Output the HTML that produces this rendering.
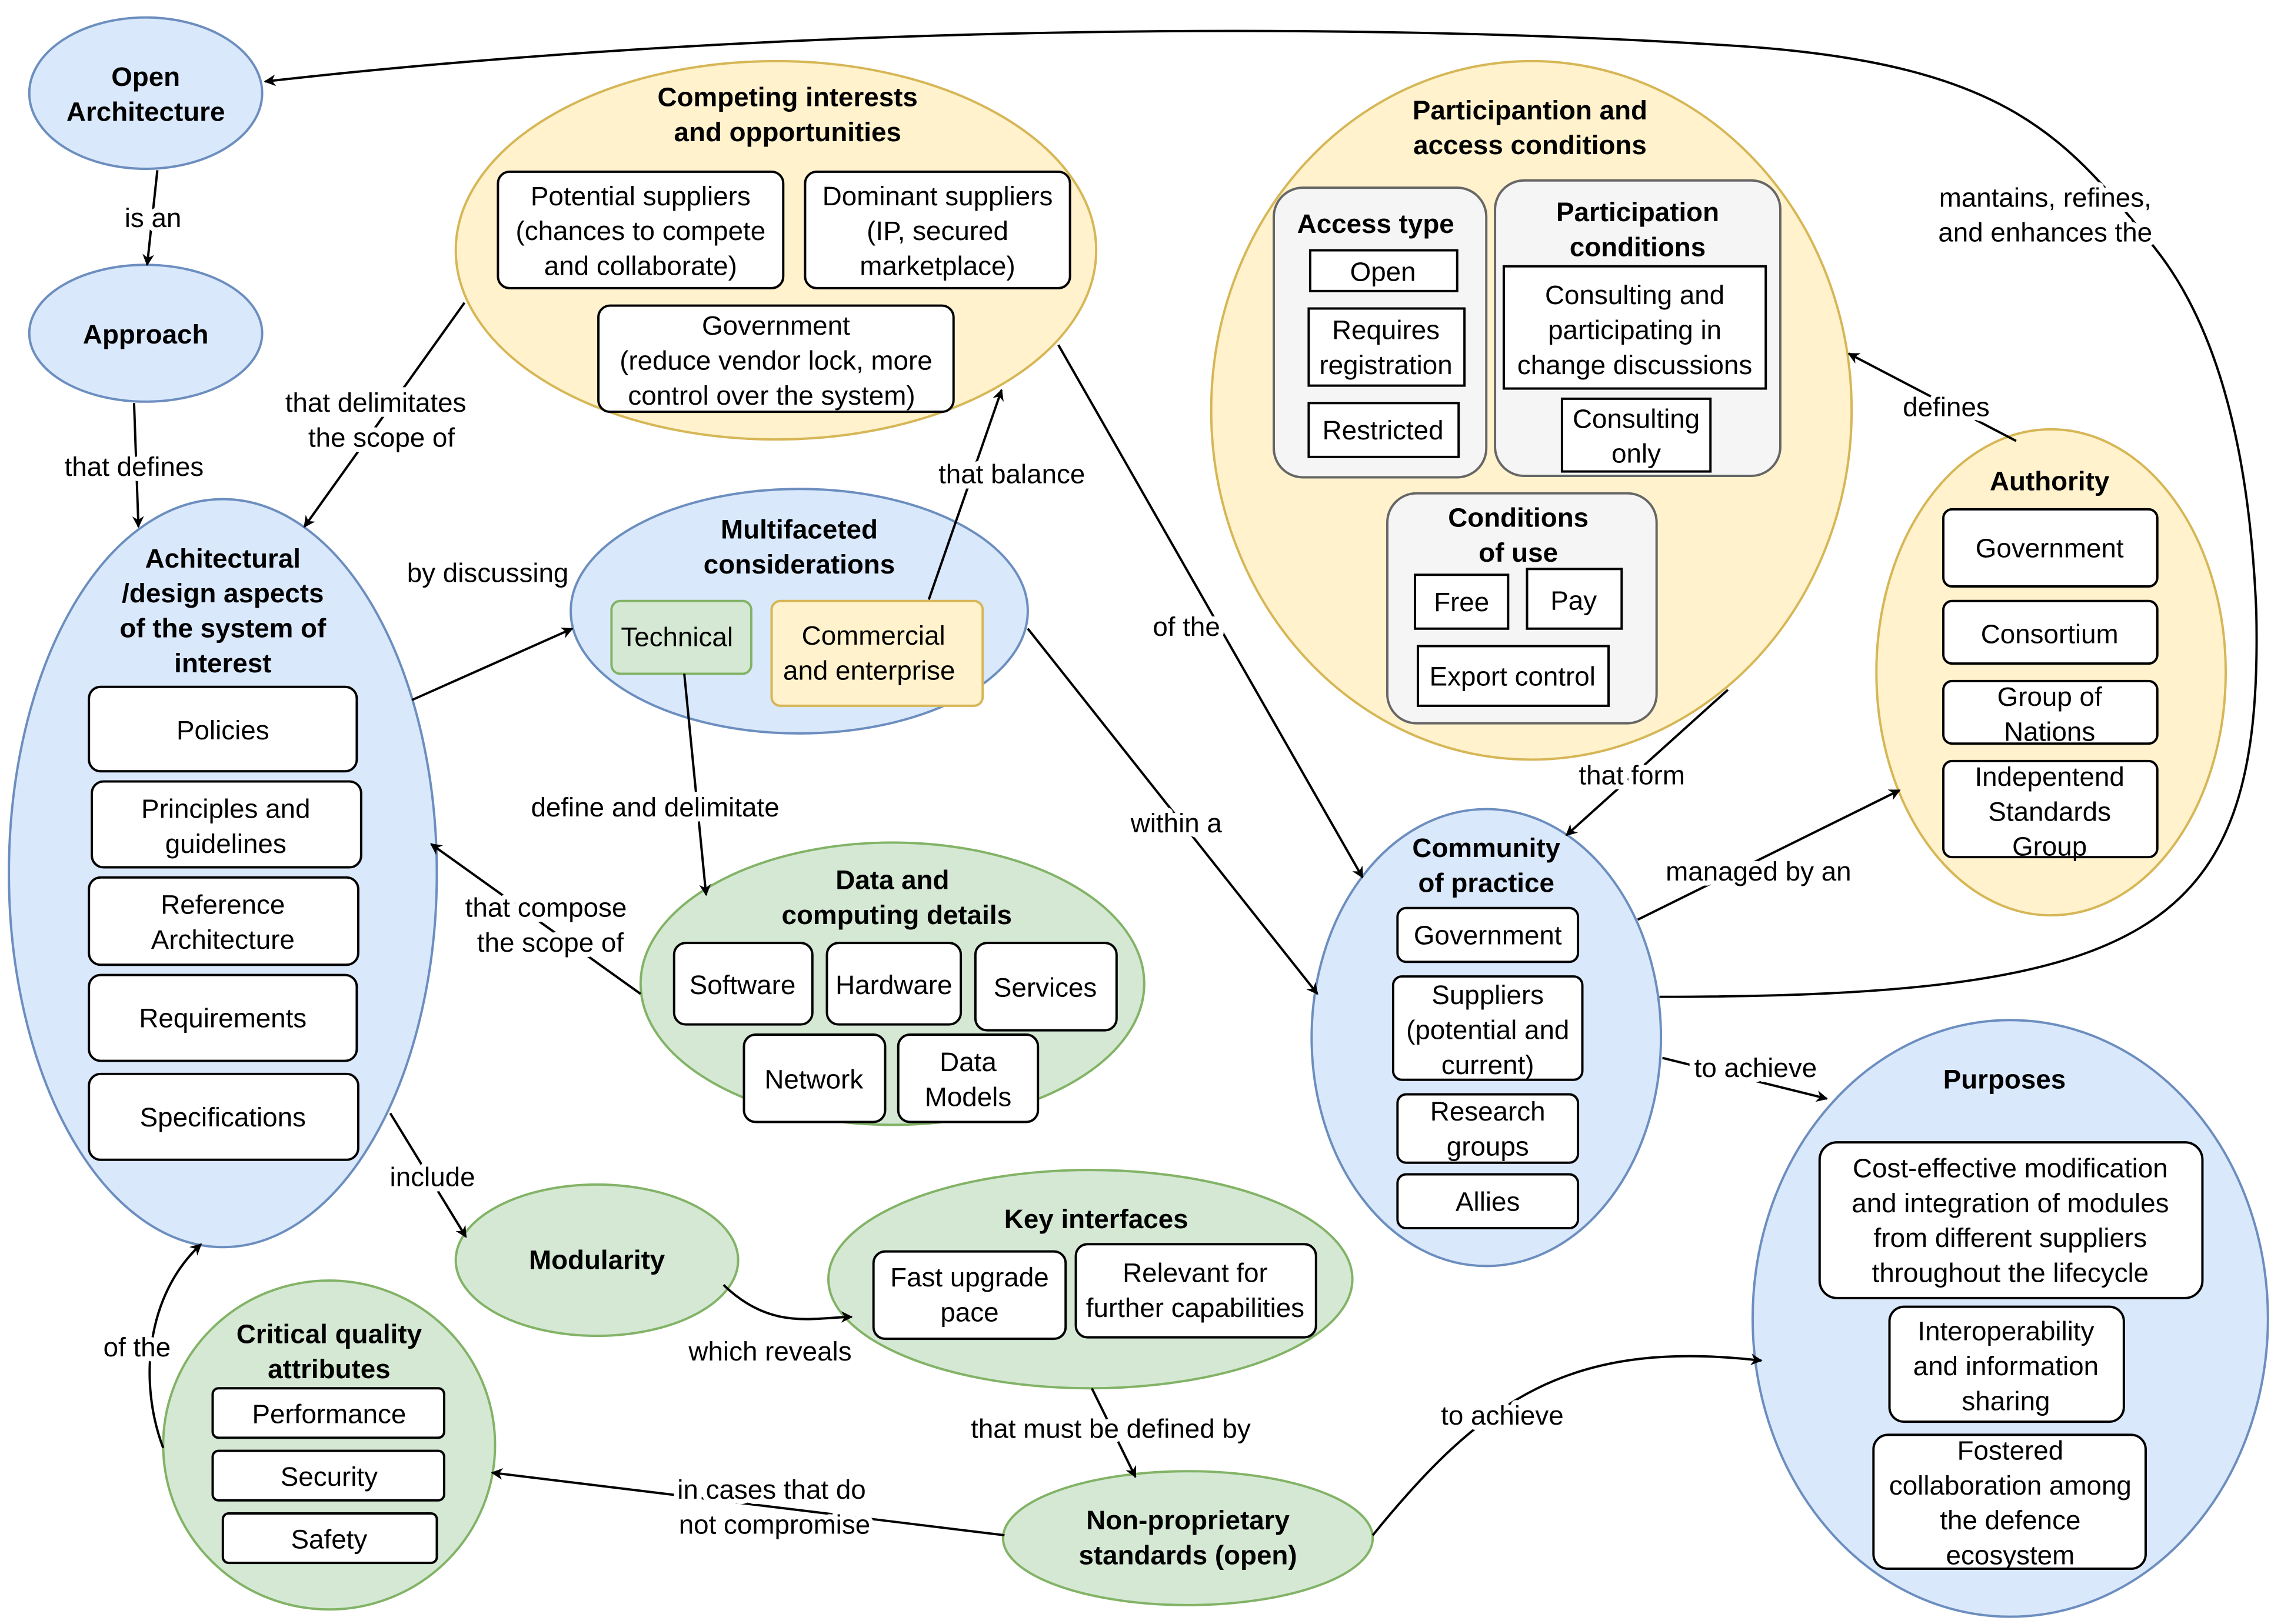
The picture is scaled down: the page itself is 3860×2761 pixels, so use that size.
<!DOCTYPE html>
<html><head><meta charset="utf-8"><style>
html,body{margin:0;padding:0;background:#fff}
svg{display:block}
text{font-family:"Liberation Sans",sans-serif;font-size:18.5px;fill:#000}
.b{font-weight:bold}
.lbl{paint-order:stroke;stroke:#fff;stroke-width:7px;stroke-linejoin:round}
.box{fill:#fff;stroke:#000;stroke-width:1.6}
.ln{fill:none;stroke:#000;stroke-width:1.6}
.bl{fill:#dae8fc;stroke:#6c8ebf;stroke-width:1.6}
.ye{fill:#fff2cc;stroke:#d6b656;stroke-width:1.6}
.gr{fill:#d5e8d4;stroke:#82b366;stroke-width:1.6}
.gy{fill:#f5f5f5;stroke:#666;stroke-width:1.6}
</style></head><body>
<svg width="3860" height="2761" viewBox="0 0 1560 1116" xmlns="http://www.w3.org/2000/svg">
<defs><marker id="a" viewBox="0 0 10 10" refX="9" refY="5" markerWidth="8" markerHeight="8" orient="auto" markerUnits="userSpaceOnUse"><path d="M0,0 L10,5 L0,10 L3,5 z" fill="#000"/></marker></defs>

<ellipse class="bl" cx="100" cy="64" rx="80" ry="52"/>
<ellipse class="bl" cx="100" cy="229" rx="80" ry="47"/>
<ellipse class="bl" cx="153" cy="600" rx="147" ry="257"/>
<ellipse class="ye" cx="533" cy="172" rx="220" ry="130"/>
<ellipse class="bl" cx="549" cy="420" rx="157" ry="84"/>
<ellipse class="gr" cx="613" cy="676" rx="173" ry="97"/>
<ellipse class="ye" cx="1052" cy="282" rx="220" ry="240"/>
<ellipse class="ye" cx="1409" cy="462" rx="120" ry="167"/>
<ellipse class="bl" cx="1021" cy="713" rx="120" ry="157"/>
<ellipse class="bl" cx="1381" cy="906" rx="177" ry="205"/>
<ellipse class="gr" cx="410" cy="866" rx="97" ry="52"/>
<ellipse class="gr" cx="749" cy="879" rx="180" ry="75"/>
<ellipse class="gr" cx="226" cy="993" rx="114" ry="113"/>
<ellipse class="gr" cx="816" cy="1057" rx="127" ry="46"/>

<rect class="gy" x="875" y="129" width="146" height="199" rx="20"/>
<rect class="gy" x="1027" y="124" width="196" height="203" rx="20"/>
<rect class="gy" x="953" y="339" width="185" height="158" rx="20"/>

<g>
<rect class="box" x="61" y="472" width="184" height="58" rx="8"/>
<rect class="box" x="63" y="537" width="185" height="59" rx="8"/>
<rect class="box" x="61" y="603" width="185" height="60" rx="8"/>
<rect class="box" x="61" y="670" width="184" height="59" rx="8"/>
<rect class="box" x="61" y="738" width="185" height="59" rx="8"/>
<rect class="box" x="342" y="118" width="196" height="80" rx="8"/>
<rect class="box" x="553" y="118" width="182" height="80" rx="8"/>
<rect class="box" x="411" y="210" width="244" height="73" rx="8"/>
<rect x="420" y="413" width="96" height="50" rx="6" fill="#d5e8d4" stroke="#82b366" stroke-width="1.6"/>
<rect x="530" y="413" width="145" height="72" rx="6" fill="#fff2cc" stroke="#d6b656" stroke-width="1.6"/>
<rect class="box" x="463" y="648" width="95" height="56" rx="8"/>
<rect class="box" x="568" y="648" width="92" height="56" rx="8"/>
<rect class="box" x="670" y="648" width="97" height="60" rx="8"/>
<rect class="box" x="511" y="711" width="97" height="60" rx="8"/>
<rect class="box" x="617" y="711" width="96" height="60" rx="8"/>
<rect class="box" x="900" y="172" width="101" height="28"/>
<rect class="box" x="899" y="212" width="107" height="53"/>
<rect class="box" x="899" y="277" width="103" height="37"/>
<rect class="box" x="1033" y="183" width="180" height="84"/>
<rect class="box" x="1073" y="274" width="102" height="50"/>
<rect class="box" x="972" y="395" width="64" height="37"/>
<rect class="box" x="1049" y="391" width="65" height="41"/>
<rect class="box" x="974" y="444" width="131" height="41"/>
<rect class="box" x="1335" y="350" width="147" height="53" rx="6"/>
<rect class="box" x="1335" y="413" width="147" height="43" rx="6"/>
<rect class="box" x="1335" y="468" width="147" height="43" rx="6"/>
<rect class="box" x="1335" y="523" width="147" height="66" rx="6"/>
<rect class="box" x="960" y="624" width="124" height="37" rx="6"/>
<rect class="box" x="957" y="671" width="130" height="71" rx="6"/>
<rect class="box" x="960" y="752" width="124" height="47" rx="6"/>
<rect class="box" x="960" y="807" width="124" height="37" rx="6"/>
<rect class="box" x="1250" y="785" width="263" height="107" rx="12"/>
<rect class="box" x="1298" y="898" width="161" height="79" rx="10"/>
<rect class="box" x="1287" y="986" width="187" height="92" rx="10"/>
<rect class="box" x="600" y="860" width="132" height="60" rx="8"/>
<rect class="box" x="739" y="855" width="165" height="64" rx="8"/>
<rect class="box" x="146" y="954" width="159" height="34" rx="4"/>
<rect class="box" x="146" y="997" width="159" height="34" rx="4"/>
<rect class="box" x="153" y="1040" width="147" height="34" rx="4"/>
</g>

<g class="ln" marker-end="url(#a)">
<path d="M1140,685 C1480,685 1555,640 1550,420 C1545,300 1520,220 1480,170 C1420,95 1380,45 1200,32 C900,12 500,20 182,56"/>
<path d="M108,117 L101,182"/>
<path d="M92,277 L95,362"/>
<path d="M319,208 L209,362"/>
<path d="M283,481 L393,432"/>
<path d="M638,412 L688,268"/>
<path d="M470,463 L485,615"/>
<path d="M440,683 L296,580"/>
<path d="M706,432 L905,683"/>
<path d="M727,237 L936,603"/>
<path d="M1187,474 L1076,574"/>
<path d="M1385,303 L1270,243"/>
<path d="M1125,632 L1305,543"/>
<path d="M1142,727 L1255,755"/>
<path d="M268,765 L320,850"/>
<path d="M497,883 C530,915 560,905 585,905"/>
<path d="M750,954 L780,1015"/>
<path d="M690,1055 L338,1012"/>
<path d="M943,1055 C1020,960 1080,920 1210,935"/>
<path d="M112,995 C95,950 100,890 138,855"/>
</g>

<g text-anchor="middle">
<text class="lbl" x="1405" y="142">mantains, refines,</text>
<text class="lbl" x="1405" y="166">and enhances the</text>
<text class="lbl" x="105" y="156">is an</text>
<text class="lbl" x="92" y="327">that defines</text>
<text class="lbl" x="258" y="283">that delimitates</text>
<text class="lbl" x="262" y="307">the scope of</text>
<text class="lbl" x="335" y="400">by discussing</text>
<text class="lbl" x="695" y="332">that balance</text>
<text class="lbl" x="450" y="561">define and delimitate</text>
<text class="lbl" x="375" y="630">that compose</text>
<text class="lbl" x="378" y="654">the scope of</text>
<text class="lbl" x="808" y="572">within a</text>
<text class="lbl" x="815" y="437">of the</text>
<text class="lbl" x="1121" y="539">that form</text>
<text class="lbl" x="1337" y="286">defines</text>
<text class="lbl" x="1208" y="605">managed by an</text>
<text class="lbl" x="1206" y="740">to achieve</text>
<text class="lbl" x="297" y="815">include</text>
<text class="lbl" x="529" y="935">which reveals</text>
<text class="lbl" x="763" y="988">that must be defined by</text>
<text class="lbl" x="530" y="1030">in cases that do</text>
<text class="lbl" x="532" y="1054">not compromise</text>
<text class="lbl" x="1032" y="979">to achieve</text>
<text class="lbl" x="94" y="932">of the</text>
</g>

<g text-anchor="middle">
<text class="b" x="100" y="59">Open</text>
<text class="b" x="100" y="83">Architecture</text>
<text class="b" x="100" y="236">Approach</text>
<text class="b" x="153" y="390">Achitectural</text>
<text class="b" x="153" y="414">/design aspects</text>
<text class="b" x="153" y="438">of the system of</text>
<text class="b" x="153" y="462">interest</text>
<text x="153" y="508">Policies</text>
<text x="155" y="562">Principles and</text>
<text x="155" y="586">guidelines</text>
<text x="153" y="628">Reference</text>
<text x="153" y="652">Architecture</text>
<text x="153" y="706">Requirements</text>
<text x="153" y="774">Specifications</text>
<text class="b" x="541" y="73">Competing interests</text>
<text class="b" x="541" y="97">and opportunities</text>
<text x="440" y="141">Potential suppliers</text>
<text x="440" y="165">(chances to compete</text>
<text x="440" y="189">and collaborate)</text>
<text x="644" y="141">Dominant suppliers</text>
<text x="644" y="165">(IP, secured</text>
<text x="644" y="189">marketplace)</text>
<text x="533" y="230">Government</text>
<text x="533" y="254">(reduce vendor lock, more</text>
<text x="530" y="278">control over the system)</text>
<text class="b" x="549" y="370">Multifaceted</text>
<text class="b" x="549" y="394">considerations</text>
<text x="465" y="444">Technical</text>
<text x="600" y="443">Commercial</text>
<text x="597" y="467">and enterprise</text>
<text class="b" x="613" y="611">Data and</text>
<text class="b" x="616" y="635">computing details</text>
<text x="510" y="683">Software</text>
<text x="614" y="683">Hardware</text>
<text x="718" y="685">Services</text>
<text x="559" y="748">Network</text>
<text x="665" y="736">Data</text>
<text x="665" y="760">Models</text>
<text class="b" x="1051" y="82">Participantion and</text>
<text class="b" x="1051" y="106">access conditions</text>
<text class="b" x="945" y="160">Access type</text>
<text x="950" y="193">Open</text>
<text x="952" y="233">Requires</text>
<text x="952" y="257">registration</text>
<text x="950" y="302">Restricted</text>
<text class="b" x="1125" y="152">Participation</text>
<text class="b" x="1125" y="176">conditions</text>
<text x="1123" y="209">Consulting and</text>
<text x="1123" y="233">participating in</text>
<text x="1123" y="257">change discussions</text>
<text x="1124" y="294">Consulting</text>
<text x="1124" y="318">only</text>
<text class="b" x="1043" y="362">Conditions</text>
<text class="b" x="1043" y="386">of use</text>
<text x="1004" y="420">Free</text>
<text x="1081" y="419">Pay</text>
<text x="1039" y="471">Export control</text>
<text class="b" x="1408" y="337">Authority</text>
<text x="1408" y="383">Government</text>
<text x="1408" y="442">Consortium</text>
<text x="1408" y="485">Group of</text>
<text x="1408" y="509">Nations</text>
<text x="1408" y="540">Indepentend</text>
<text x="1408" y="564">Standards</text>
<text x="1408" y="588">Group</text>
<text class="b" x="1021" y="589">Community</text>
<text class="b" x="1021" y="613">of practice</text>
<text x="1022" y="649">Government</text>
<text x="1022" y="690">Suppliers</text>
<text x="1022" y="714">(potential and</text>
<text x="1022" y="738">current)</text>
<text x="1022" y="770">Research</text>
<text x="1022" y="794">groups</text>
<text x="1022" y="832">Allies</text>
<text class="b" x="1377" y="748">Purposes</text>
<text x="1381" y="809">Cost-effective modification</text>
<text x="1381" y="833">and integration of modules</text>
<text x="1381" y="857">from different suppliers</text>
<text x="1381" y="881">throughout the lifecycle</text>
<text x="1378" y="921">Interoperability</text>
<text x="1378" y="945">and information</text>
<text x="1378" y="969">sharing</text>
<text x="1381" y="1003">Fostered</text>
<text x="1381" y="1027">collaboration among</text>
<text x="1381" y="1051">the defence</text>
<text x="1381" y="1075">ecosystem</text>
<text class="b" x="410" y="872">Modularity</text>
<text class="b" x="753" y="844">Key interfaces</text>
<text x="666" y="884">Fast upgrade</text>
<text x="666" y="908">pace</text>
<text x="821" y="881">Relevant for</text>
<text x="821" y="905">further capabilities</text>
<text class="b" x="226" y="923">Critical quality</text>
<text class="b" x="226" y="947">attributes</text>
<text x="226" y="978">Performance</text>
<text x="226" y="1021">Security</text>
<text x="226" y="1064">Safety</text>
<text class="b" x="816" y="1051">Non-proprietary</text>
<text class="b" x="816" y="1075">standards (open)</text>
</g>
</svg>
</body></html>
